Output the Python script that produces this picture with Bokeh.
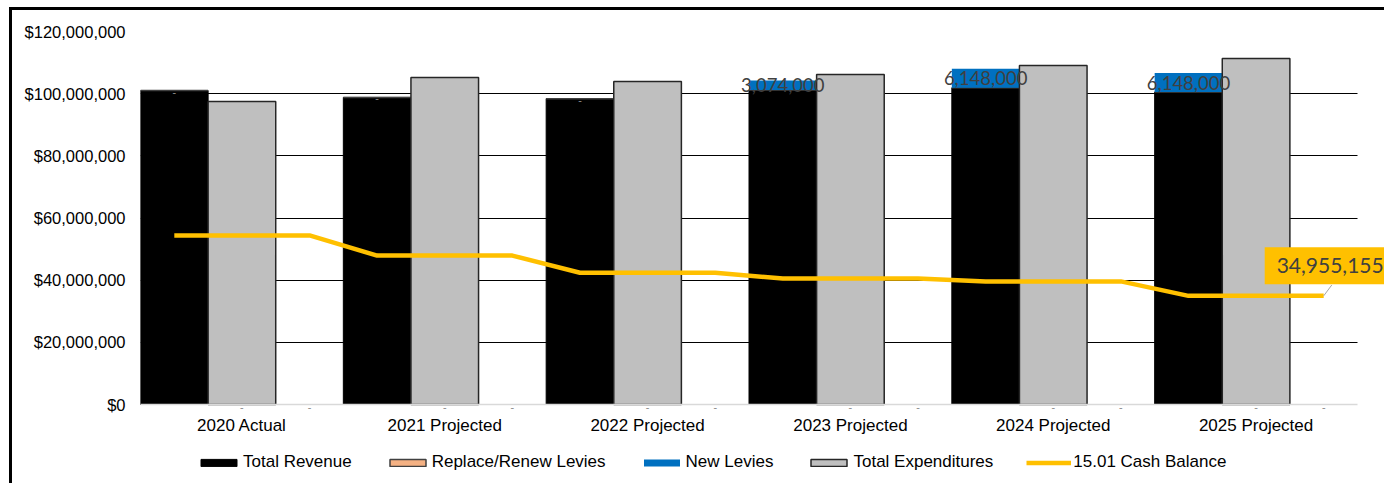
from bokeh.plotting import figure
from bokeh.models import (FixedTicker, NumeralTickFormatter, Legend, LegendItem,
                          Label, Range1d)
from bokeh.core.properties import value
from bokeh.embed import file_html
from bokeh.resources import INLINE

# ---------------- data ----------------
years = ["2020 Actual", "2021 Projected", "2022 Projected",
         "2023 Projected", "2024 Projected", "2025 Projected"]
total_revenue = [101_000_000, 98_800_000, 98_400_000, 101_200_000, 101_900_000, 100_500_000]
replace_renew_levies = [0, 0, 0, 0, 0, 0]
new_levies = [0, 0, 0, 3_074_000, 6_148_000, 6_148_000]
total_expenditures = [97_500_000, 105_200_000, 103_900_000, 106_200_000, 109_100_000, 111_300_000]
cash_balance = [54_400_000, 47_900_000, 42_400_000, 40_500_000, 39_600_000, 34_955_155]
y_ticks = [0, 20_000_000, 40_000_000, 60_000_000, 80_000_000, 100_000_000, 120_000_000]

# ---------------- layout of slots (3 slots per year) ----------------
n = len(years)
SLOTS = 3
rev_x = [i * SLOTS + 0.5 for i in range(n)]
exp_x = [i * SLOTS + 1.5 for i in range(n)]
line_x = [i * SLOTS + j + 0.5 for i in range(n) for j in range(SLOTS)]
line_y = [cash_balance[i] for i in range(n) for j in range(SLOTS)]
rep_top = [r + l for r, l in zip(total_revenue, replace_renew_levies)]
new_top = [t + l for t, l in zip(rep_top, new_levies)]

AXIS_FONT = "Liberation Sans"
LABEL_FONT = "Lato"

# canvas geometry (pixels)
W, H = 1375, 476
LEFT, TOP = 128, 21
PLOT_W, PLOT_H = 1217, 373          # size of the drawn value area
BELOW = H - TOP - PLOT_H            # room under the value axis for labels / legend
X_END = n * SLOTS * (W - LEFT) / PLOT_W
Y_START = -y_ticks[-1] * BELOW / PLOT_H

p = figure(width=W, height=H,
           x_range=Range1d(0, X_END), y_range=Range1d(Y_START, y_ticks[-1]),
           output_backend="svg", toolbar_location=None,
           min_border_left=LEFT, min_border_right=0,
           min_border_top=TOP, min_border_bottom=0)
p.outline_line_color = None
p.background_fill_color = "white"
p.border_fill_color = "white"
p.styles = {"margin-left": "9px", "margin-top": "7px",
            "border-left": "3px solid black", "border-top": "3px solid black"}

# grid
p.xgrid.visible = False
p.ygrid.ticker = FixedTicker(ticks=y_ticks[1:])
p.ygrid.grid_line_color = "black"
p.ygrid.grid_line_width = 1
p.ygrid.cross_bounds = (0, n * SLOTS)

# y axis
p.yaxis.ticker = FixedTicker(ticks=y_ticks)
p.yaxis.formatter = NumeralTickFormatter(format="$0,0")
p.yaxis.axis_line_color = None
p.yaxis.major_tick_line_color = None
p.yaxis.minor_tick_line_color = None
p.yaxis.major_tick_out = 0
p.yaxis.major_tick_in = 0
p.yaxis.major_label_standoff = 15
p.yaxis.major_label_text_font = AXIS_FONT
p.yaxis.major_label_text_font_size = "16.5px"
p.yaxis.major_label_text_color = "black"

# x axis, pinned at value 0
p.xaxis.fixed_location = 0
p.xaxis.ticker = FixedTicker(ticks=exp_x)
p.xaxis.major_label_overrides = {t: years[i] for i, t in enumerate(exp_x)}
p.xaxis.bounds = (0, n * SLOTS)
p.xaxis.axis_line_color = "#D9D9D9"
p.xaxis.axis_line_width = 1.5
p.xaxis.major_tick_line_color = None
p.xaxis.minor_tick_line_color = None
p.xaxis.major_tick_out = 0
p.xaxis.major_tick_in = 0
p.xaxis.major_label_standoff = 11
p.xaxis.major_label_text_font = AXIS_FONT
p.xaxis.major_label_text_font_size = "17px"
p.xaxis.major_label_text_color = "black"

# bars
r_rev = p.vbar(x=rev_x, top=total_revenue, width=1, fill_color="black", line_color="black")
r_rep = p.vbar(x=rev_x, bottom=total_revenue, top=rep_top, width=1,
               fill_color="#F4B183", line_color="#404040", line_width=1.5)
r_new = p.vbar(x=rev_x, bottom=rep_top, top=new_top, width=1, fill_color="#0070C0", line_color=None)
r_exp = p.vbar(x=exp_x, top=total_expenditures, width=1, fill_color="#BFBFBF",
               line_color="#262626", line_width=1.5)

# zero-value data labels ("-")
dash_x = [rev_x[i] for i in range(n) if new_levies[i] == 0]
dash_y = [rep_top[i] for i in range(n) if new_levies[i] == 0]
p.text(x=dash_x, y=dash_y, text=["-"] * len(dash_x), text_font=value(LABEL_FONT),
       text_font_size="11px", text_color="#8C8C8C", text_align="center",
       text_baseline="middle", y_offset=2)
base_x = [i * SLOTS + j + 0.5 for i in range(n) for j in (1, 2)]
p.text(x=base_x, y=[0] * len(base_x), text=["-"] * len(base_x), text_font=value(LABEL_FONT),
       text_font_size="11px", text_color="#8C8C8C", text_align="center",
       text_baseline="middle", y_offset=3)

# new levy data labels
lab_idx = [i for i in range(n) if new_levies[i] > 0]
p.text(x=[rev_x[i] for i in lab_idx],
       y=[rep_top[i] + new_levies[i] / 2 for i in lab_idx],
       text=[f"{new_levies[i]:,}" for i in lab_idx],
       text_font=value(LABEL_FONT), text_font_size="18.5px", text_color="#404040",
       text_align="center", text_baseline="middle")

# cash balance line
r_cash = p.line(line_x, line_y, line_color="#FFC000", line_width=4.5)

# callout for last cash value
p.segment(x0=[line_x[-1]], y0=[line_y[-1]], x1=[line_x[-1] + 0.12], y1=[line_y[-1] + 3_500_000],
          line_color="#A6A6A6", line_width=1)
callout = Label(x=line_x[-1], y=line_y[-1], x_offset=-59, y_offset=30,
                text=f"{cash_balance[-1]:,}", text_font=LABEL_FONT, text_font_size="21px",
                text_color="#404040", text_align="left", text_baseline="middle",
                background_fill_color="#FFC000",
                padding=dict(left=12, right=12, top=11, bottom=11))
p.add_layout(callout)

legend = Legend(items=[
    LegendItem(label="Total Revenue", renderers=[r_rev]),
    LegendItem(label="Replace/Renew Levies", renderers=[r_rep]),
    LegendItem(label="New Levies", renderers=[r_new]),
    LegendItem(label="Total Expenditures", renderers=[r_exp]),
    LegendItem(label="15.01 Cash Balance", renderers=[r_cash]),
], orientation="horizontal", location=(56, 14), glyph_width=45, glyph_height=9,
    label_standoff=2, spacing=33, padding=0, margin=0,
    border_line_color=None, background_fill_alpha=0,
    label_text_font=AXIS_FONT, label_text_font_size="17px", label_text_color="black")
p.add_layout(legend)

open("out.html", "w").write(file_html(p, INLINE))
